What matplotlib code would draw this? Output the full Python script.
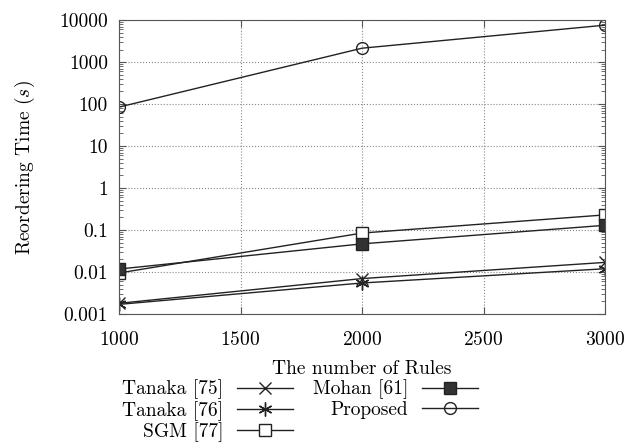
import matplotlib.pyplot as plt
from matplotlib.ticker import FixedLocator, LogLocator, NullFormatter

plt.rcParams['font.family'] = 'cmr10'
plt.rcParams['mathtext.fontset'] = 'cm'
plt.rcParams['axes.formatter.use_mathtext'] = True
plt.rcParams['font.size'] = 14

rules = [1000, 2000, 3000]
tanaka75 = [0.0018, 0.0070, 0.017]
tanaka76 = [0.0017, 0.0055, 0.012]
sgm77 = [0.0095, 0.085, 0.23]
mohan61 = [0.0118, 0.047, 0.13]
proposed = [85, 2150, 7600]

y_ticks = [0.001, 0.01, 0.1, 1, 10, 100, 1000, 10000]
y_labels = ['0.001', '0.01', '0.1', '1', '10', '100', '1000', '10000']

fig = plt.figure(figsize=(6.28, 4.48), dpi=100)
ax = fig.add_axes([0.1895, 0.299, 0.774, 0.656])

kw = dict(color='#222222', lw=1.0, markersize=8.5, markeredgewidth=1.0)
ax.plot(rules, tanaka75, marker='x', label='Tanaka [75]', **kw)
ax.plot(rules, tanaka76, marker=(6, 2, 0), label='Tanaka [76]',
        **{**kw, 'markersize': 10})
ax.plot(rules, sgm77, marker='s', markerfacecolor='white', label='SGM [77]', **kw)
ax.plot(rules, mohan61, marker='s', markerfacecolor='#333333', label='Mohan [61]', **kw)
ax.plot(rules, proposed, marker='o', markerfacecolor='none', label='Proposed', **kw)

ax.set_yscale('log')
ax.set_ylim(0.001, 10000)
ax.set_xlim(1000, 3000)
ax.set_yticks(y_ticks)
ax.set_yticklabels(y_labels)
ax.yaxis.set_minor_locator(LogLocator(base=10, subs=range(2, 10), numticks=20))
ax.yaxis.set_minor_formatter(NullFormatter())
ax.xaxis.set_major_locator(FixedLocator([1000, 1500, 2000, 2500, 3000]))
ax.tick_params(which='both', direction='in', top=True, right=True, color='#555555')
ax.tick_params(which='major', length=5)
ax.tick_params(axis='y', which='major', pad=8)
ax.tick_params(axis='x', which='major', pad=12)
ax.tick_params(which='minor', length=3)
ax.grid(True, which='major', linestyle=':', color='#888888', lw=0.8)
for s in ax.spines.values():
    s.set_color('#555555')

ax.set_xlabel('The number of Rules', labelpad=8)
ax.set_ylabel('Reordering Time ($s$)', labelpad=16)

fig.legend(loc='upper center', bbox_to_anchor=(0.478, 0.17), ncol=2, frameon=False,
           markerfirst=False, handlelength=2.9, labelspacing=0.08, columnspacing=1.0,
           borderaxespad=0, handletextpad=0.7)

fig.savefig('out.png', dpi=100)
